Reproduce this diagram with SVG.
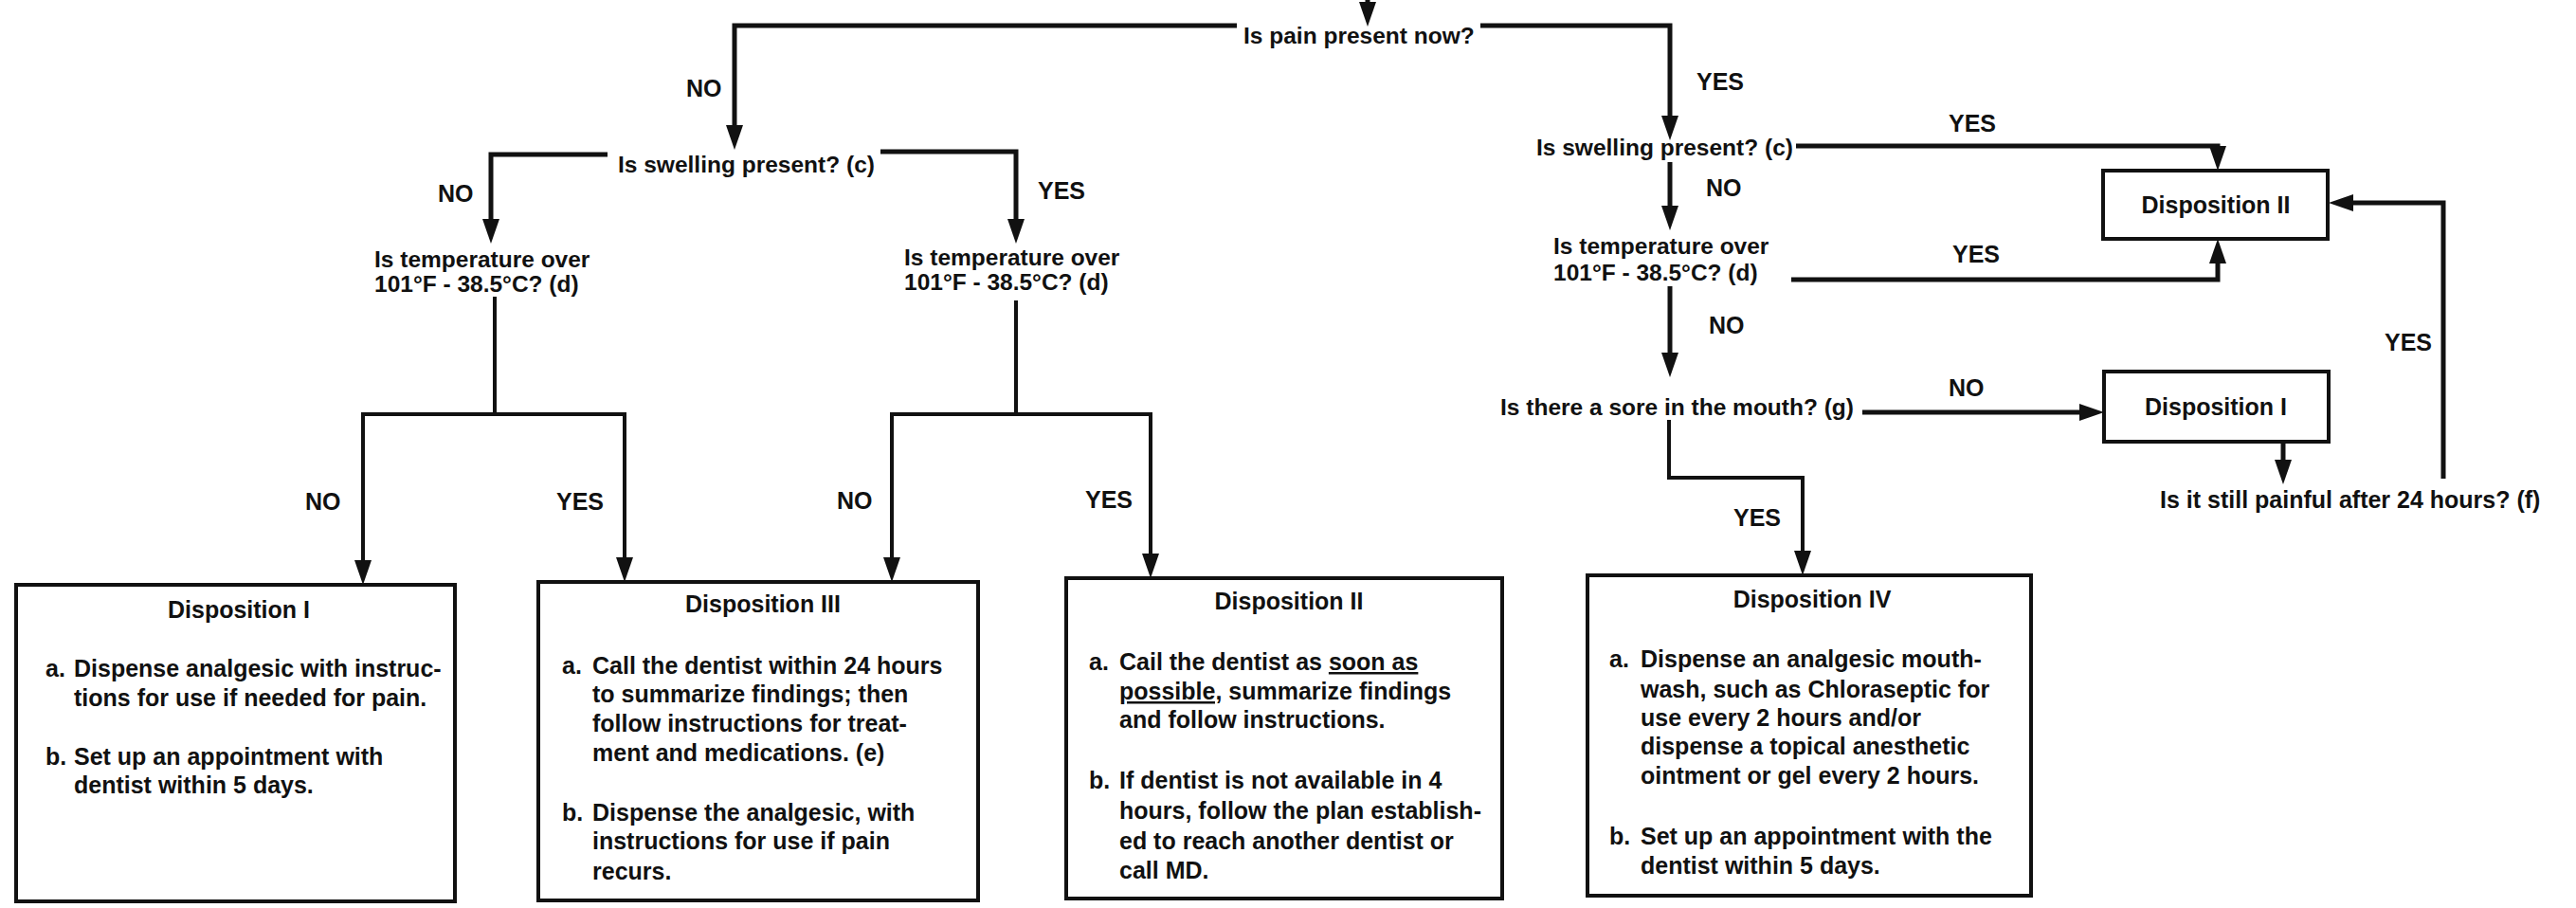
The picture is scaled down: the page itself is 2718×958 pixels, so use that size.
<svg xmlns="http://www.w3.org/2000/svg" width="2718" height="958" viewBox="0 0 2718 958">
<style>
text{font-family:"Liberation Sans",Arial,sans-serif;font-weight:bold;fill:#111;}
.q{font-size:24.5px;}
.lbl{font-size:25px;}
.t{font-size:25px;}
.title{font-size:25px;text-anchor:middle;}
.box{fill:#fff;stroke:#111;stroke-width:4;}
.c{fill:none;stroke:#111;stroke-width:5;stroke-linejoin:miter;}
.thin{stroke-width:4;}
.a{marker-end:url(#ah);}
.as{marker-start:url(#ah);}
.u{text-decoration:underline;}
</style>
<defs>
<marker id="ah" markerUnits="userSpaceOnUse" viewBox="0 0 26 18" refX="8" refY="9" markerWidth="26" markerHeight="18" orient="auto-start-reverse">
<path d="M0,0 L26,9 L0,18 Z" fill="#111"/>
</marker>
</defs>
<rect width="2718" height="958" fill="#fff"/>

<g id="connectors">
<path class="c a" d="M1443,0 V10"/>
<path class="c a" d="M1305,27 H775 V140"/>
<path class="c a" d="M1562,27 H1762 V130"/>
<path class="c a" d="M641,163 H518 V239"/>
<path class="c a" d="M929,160 H1072 V239"/>
<path class="c thin" d="M522,313 V437"/>
<path class="c thin as a" d="M383,599 V437 H659 V596"/>
<path class="c thin" d="M1072,317 V437"/>
<path class="c thin as a" d="M941,596 V437 H1214 V592"/>
<path class="c a" d="M1762,171 V225"/>
<path class="c a" d="M1762,302 V380"/>
<path class="c a" d="M1895,154 H2340 V162"/>
<path class="c a" d="M1890,295 H2340 V270"/>
<path class="c a" d="M1965,435 H2202"/>
<path class="c thin a" d="M1761,443 V504 H1902 V589"/>
<path class="c a" d="M2409,466 V493"/>
<path class="c a" d="M2578,505 V214 H2475"/>
<text class="lbl" x="724" y="102">NO</text>
<text class="lbl" x="1790" y="95">YES</text>
<text class="lbl" x="462" y="213">NO</text>
<text class="lbl" x="1095" y="210">YES</text>
<text class="lbl" x="1800" y="207">NO</text>
<text class="lbl" x="2056" y="139">YES</text>
<text class="lbl" x="2060" y="277">YES</text>
<text class="lbl" x="1803" y="352">NO</text>
<text class="lbl" x="2056" y="418">NO</text>
<text class="lbl" x="2516" y="370">YES</text>
<text class="lbl" x="1829" y="555">YES</text>
<text class="lbl" x="322" y="538">NO</text>
<text class="lbl" x="587" y="538">YES</text>
<text class="lbl" x="883" y="537">NO</text>
<text class="lbl" x="1145" y="536">YES</text>
</g>

<g id="q-pain"><text class="q" x="1312" y="46">Is pain present now?</text></g>
<g id="q-swelling-left"><text class="q" x="652" y="182">Is swelling present? (c)</text></g>
<g id="q-swelling-right"><text class="q" x="1621" y="164">Is swelling present? (c)</text></g>
<g id="q-temp-left"><text class="q" x="395" y="282">Is temperature over</text><text class="q" x="395" y="308">101°F - 38.5°C? (d)</text></g>
<g id="q-temp-mid"><text class="q" x="954" y="280">Is temperature over</text><text class="q" x="954" y="306">101°F - 38.5°C? (d)</text></g>
<g id="q-temp-right"><text class="q" x="1639" y="268">Is temperature over</text><text class="q" x="1639" y="296">101°F - 38.5°C? (d)</text></g>
<g id="q-sore"><text class="q" x="1956" y="438" text-anchor="end">Is there a sore in the mouth? (g)</text></g>
<g id="q-still"><text class="t" x="2279" y="536">Is it still painful after 24 hours? (f)</text></g>

<g id="disp2-small">
<rect class="box" x="2219" y="180" width="237" height="72"/>
<text class="title" x="2338" y="225">Disposition II</text>
</g>
<g id="disp1-small">
<rect class="box" x="2220" y="392" width="237" height="74"/>
<text class="title" x="2338" y="438">Disposition  I</text>
</g>

<g id="disp1-box">
<rect class="box" x="17" y="617" width="463" height="334"/>
<text class="title" x="252" y="652">Disposition I</text>
<text class="t" x="48" y="714">a.</text><text class="t" x="78" y="714">Dispense analgesic with instruc-</text>
<text class="t" x="78" y="745">tions for use if needed for pain.</text>
<text class="t" x="48" y="807">b.</text><text class="t" x="78" y="807">Set up an appointment with</text>
<text class="t" x="78" y="837">dentist within 5 days.</text>
</g>

<g id="disp3-box">
<rect class="box" x="568" y="614" width="464" height="336"/>
<text class="title" x="805" y="646">Disposition III</text>
<text class="t" x="593" y="711">a.</text><text class="t" x="625" y="711">Call the dentist within 24 hours</text>
<text class="t" x="625" y="741">to summarize findings; then</text>
<text class="t" x="625" y="772">follow instructions for treat-</text>
<text class="t" x="625" y="803">ment and medications. (e)</text>
<text class="t" x="593" y="866">b.</text><text class="t" x="625" y="866">Dispense the analgesic, with</text>
<text class="t" x="625" y="896">instructions for use if pain</text>
<text class="t" x="625" y="928">recurs.</text>
</g>

<g id="disp2-box">
<rect class="box" x="1125" y="610" width="460" height="338"/>
<text class="title" x="1360" y="643">Disposition II</text>
<text class="t" x="1149" y="707">a.</text><text class="t" x="1181" y="707">Cail the dentist as <tspan class="u">soon as</tspan></text>
<text class="t" x="1181" y="738"><tspan class="u">possible,</tspan> summarize findings</text>
<text class="t" x="1181" y="768">and follow instructions.</text>
<text class="t" x="1149" y="832">b.</text><text class="t" x="1181" y="832">If dentist is not available in 4</text>
<text class="t" x="1181" y="864">hours, follow the plan establish-</text>
<text class="t" x="1181" y="896">ed to reach another dentist or</text>
<text class="t" x="1181" y="927">call MD.</text>
</g>

<g id="disp4-box">
<rect class="box" x="1675" y="607" width="468" height="338"/>
<text class="title" x="1912" y="641">Disposition IV</text>
<text class="t" x="1698" y="704">a.</text><text class="t" x="1731" y="704">Dispense an analgesic mouth-</text>
<text class="t" x="1731" y="736">wash, such as Chloraseptic for</text>
<text class="t" x="1731" y="766">use every 2 hours and/or</text>
<text class="t" x="1731" y="796">dispense a topical anesthetic</text>
<text class="t" x="1731" y="827">ointment or gel every 2 hours.</text>
<text class="t" x="1698" y="891">b.</text><text class="t" x="1731" y="891">Set up an appointment with the</text>
<text class="t" x="1731" y="922">dentist within 5 days.</text>
</g>
</svg>
